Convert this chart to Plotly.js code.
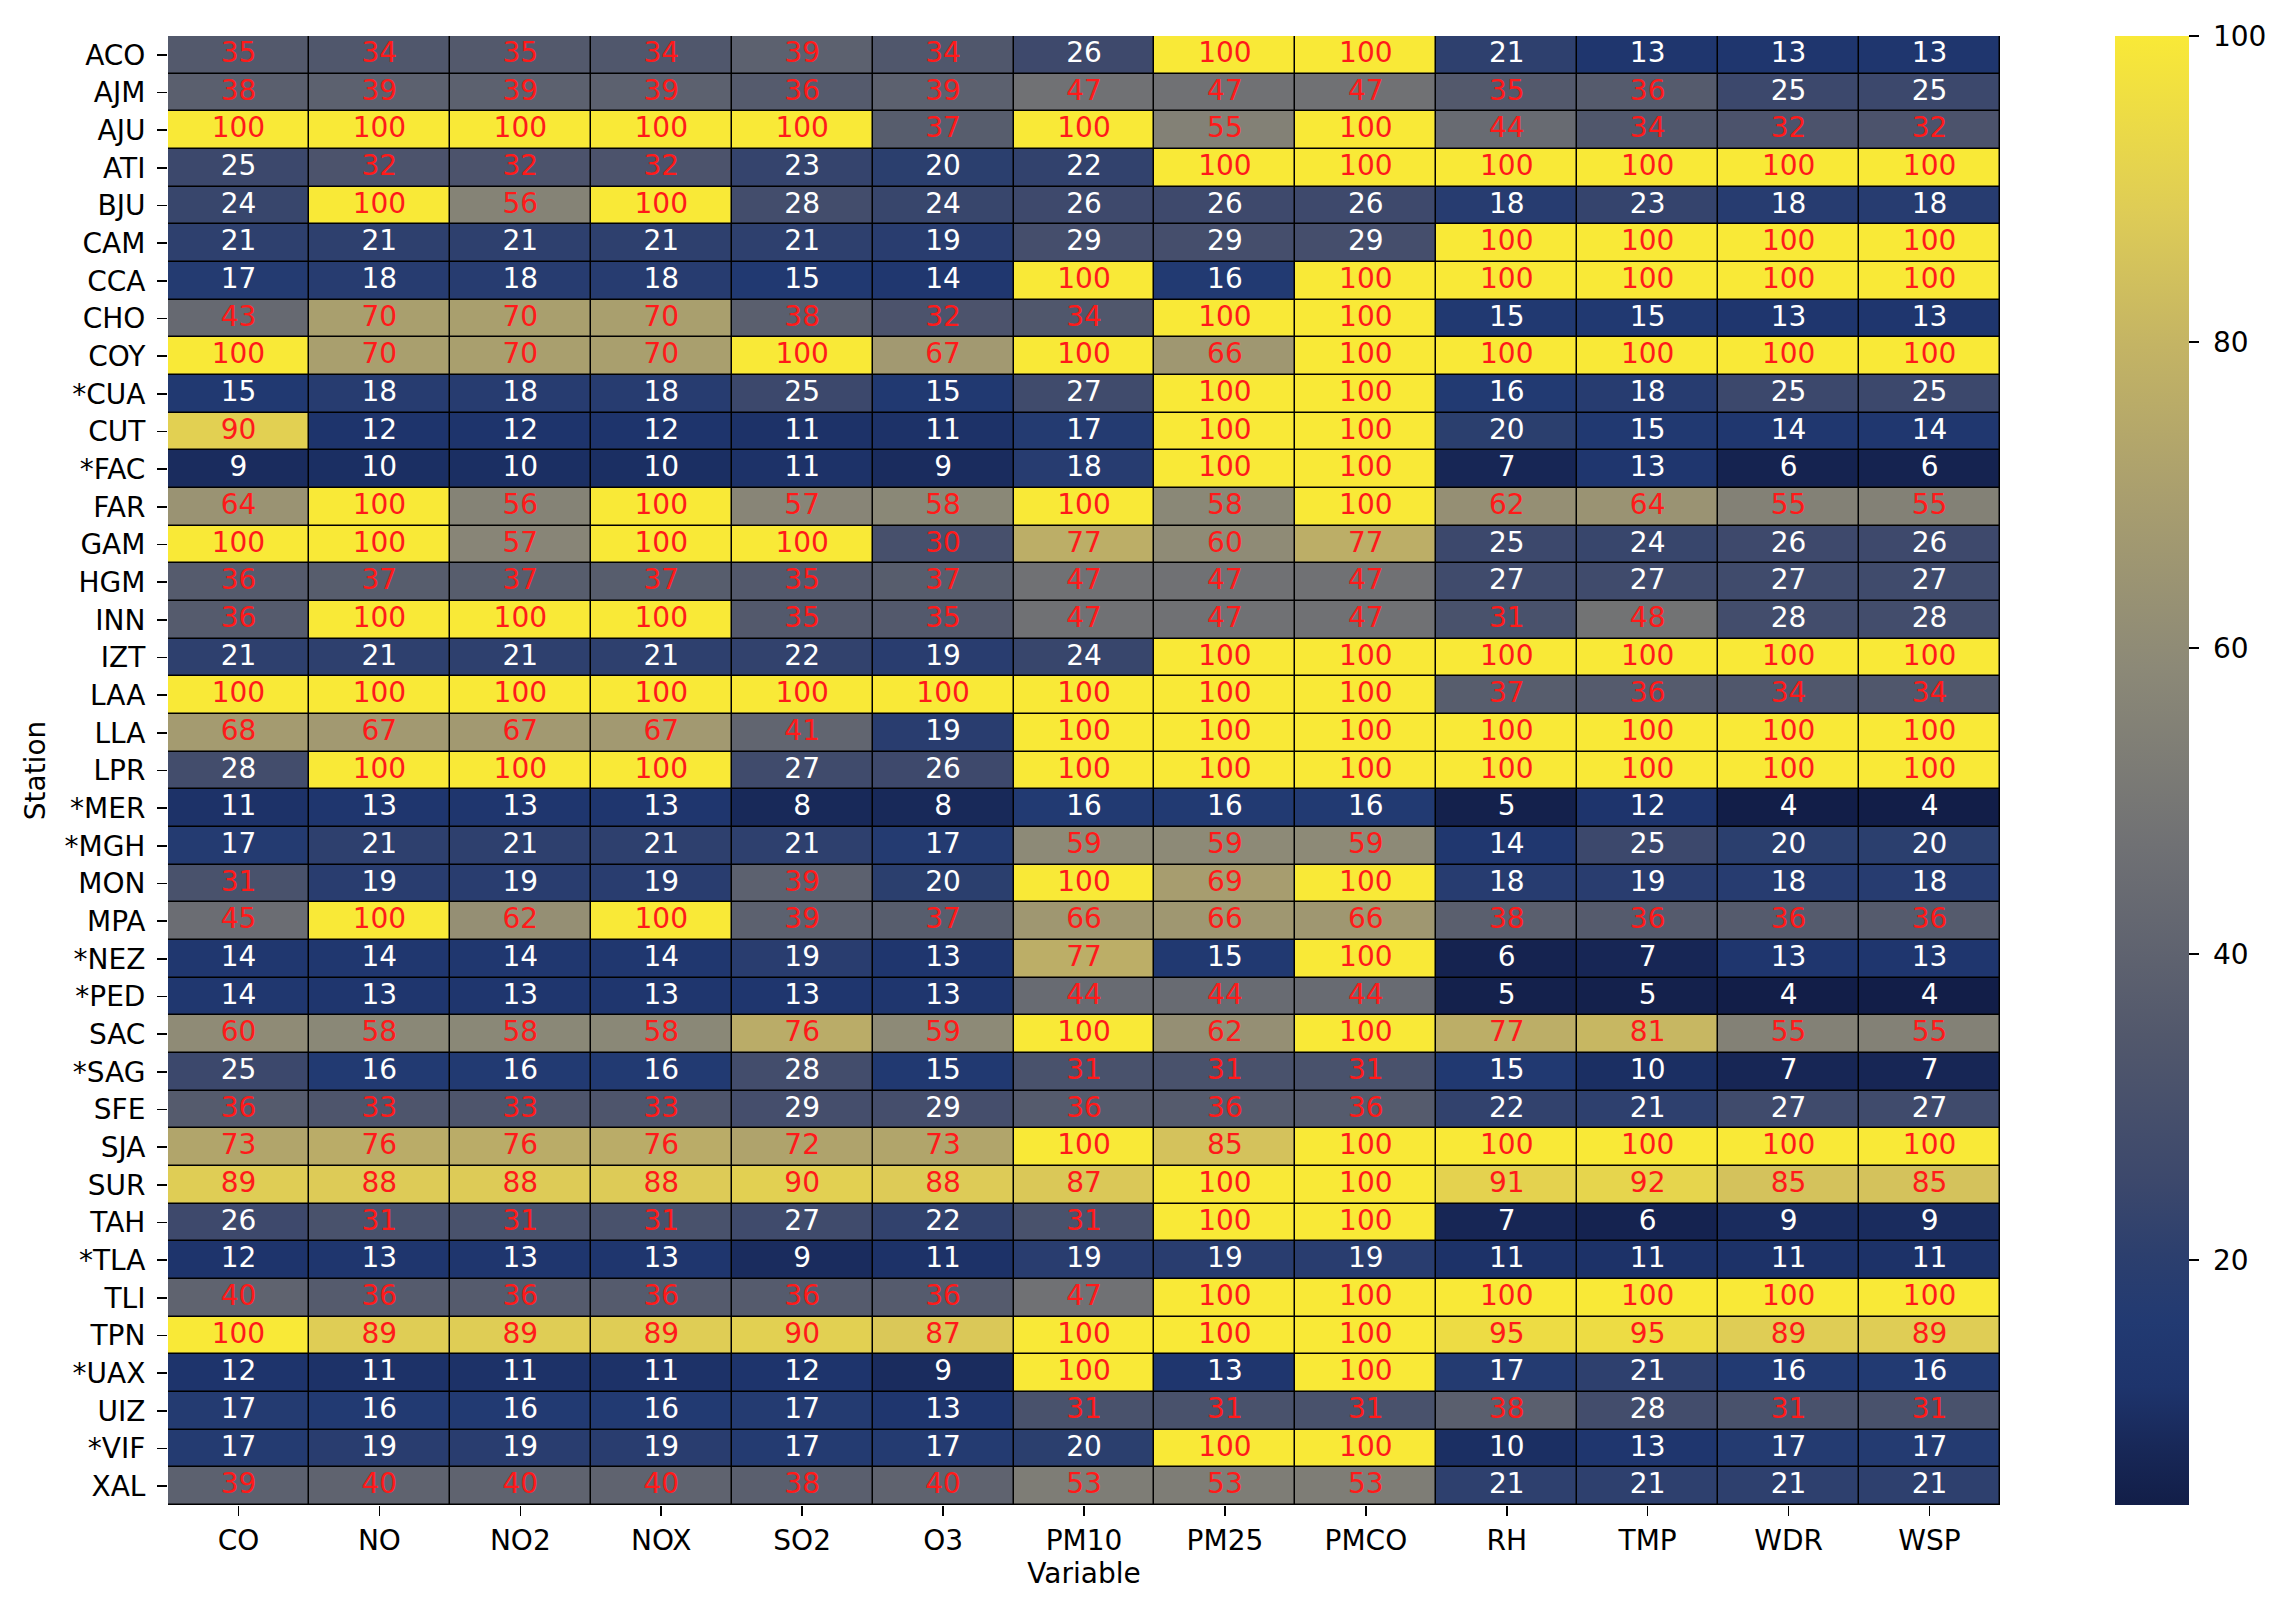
<!DOCTYPE html>
<html>
<head>
<meta charset="utf-8">
<script src="https://cdn.plot.ly/plotly-3.0.1.min.js"></script>
<style>
  html, body { margin: 0; padding: 0; background: #ffffff; }
  #chart { width: 2281px; height: 1612px; }
</style>
</head>
<body>
<div id="chart"></div>
<script>
const variables = ["CO","NO","NO2","NOX","SO2","O3","PM10","PM25","PMCO","RH","TMP","WDR","WSP"];
const stations = ["ACO","AJM","AJU","ATI","BJU","CAM","CCA","CHO","COY","*CUA","CUT","*FAC","FAR","GAM","HGM","INN","IZT","LAA","LLA","LPR","*MER","*MGH","MON","MPA","*NEZ","*PED","SAC","*SAG","SFE","SJA","SUR","TAH","*TLA","TLI","TPN","*UAX","UIZ","*VIF","XAL"];

const ACO  = [35,34,35,34,39,34,26,100,100,21,13,13,13];
const AJM  = [38,39,39,39,36,39,47,47,47,35,36,25,25];
const AJU  = [100,100,100,100,100,37,100,55,100,44,34,32,32];
const ATI  = [25,32,32,32,23,20,22,100,100,100,100,100,100];
const BJU  = [24,100,56,100,28,24,26,26,26,18,23,18,18];
const CAM  = [21,21,21,21,21,19,29,29,29,100,100,100,100];
const CCA  = [17,18,18,18,15,14,100,16,100,100,100,100,100];
const CHO  = [43,70,70,70,38,32,34,100,100,15,15,13,13];
const COY  = [100,70,70,70,100,67,100,66,100,100,100,100,100];
const CUA  = [15,18,18,18,25,15,27,100,100,16,18,25,25];
const CUT  = [90,12,12,12,11,11,17,100,100,20,15,14,14];
const FAC  = [9,10,10,10,11,9,18,100,100,7,13,6,6];
const FAR  = [64,100,56,100,57,58,100,58,100,62,64,55,55];
const GAM  = [100,100,57,100,100,30,77,60,77,25,24,26,26];
const HGM  = [36,37,37,37,35,37,47,47,47,27,27,27,27];
const INN  = [36,100,100,100,35,35,47,47,47,31,48,28,28];
const IZT  = [21,21,21,21,22,19,24,100,100,100,100,100,100];
const LAA  = [100,100,100,100,100,100,100,100,100,37,36,34,34];
const LLA  = [68,67,67,67,41,19,100,100,100,100,100,100,100];
const LPR  = [28,100,100,100,27,26,100,100,100,100,100,100,100];
const MER  = [11,13,13,13,8,8,16,16,16,5,12,4,4];
const MGH  = [17,21,21,21,21,17,59,59,59,14,25,20,20];
const MON  = [31,19,19,19,39,20,100,69,100,18,19,18,18];
const MPA  = [45,100,62,100,39,37,66,66,66,38,36,36,36];
const NEZ  = [14,14,14,14,19,13,77,15,100,6,7,13,13];
const PED  = [14,13,13,13,13,13,44,44,44,5,5,4,4];
const SAC  = [60,58,58,58,76,59,100,62,100,77,81,55,55];
const SAG  = [25,16,16,16,28,15,31,31,31,15,10,7,7];
const SFE  = [36,33,33,33,29,29,36,36,36,22,21,27,27];
const SJA  = [73,76,76,76,72,73,100,85,100,100,100,100,100];
const SUR  = [89,88,88,88,90,88,87,100,100,91,92,85,85];
const TAH  = [26,31,31,31,27,22,31,100,100,7,6,9,9];
const TLA  = [12,13,13,13,9,11,19,19,19,11,11,11,11];
const TLI  = [40,36,36,36,36,36,47,100,100,100,100,100,100];
const TPN  = [100,89,89,89,90,87,100,100,100,95,95,89,89];
const UAX  = [12,11,11,11,12,9,100,13,100,17,21,16,16];
const UIZ  = [17,16,16,16,17,13,31,31,31,38,28,31,31];
const VIF  = [17,19,19,19,17,17,20,100,100,10,13,17,17];
const XAL  = [39,40,40,40,38,40,53,53,53,21,21,21,21];

const colorbarTicks = [20,40,60,80,100];

const z = [ACO,AJM,AJU,ATI,BJU,CAM,CCA,CHO,COY,CUA,CUT,FAC,FAR,GAM,HGM,INN,IZT,LAA,LLA,LPR,MER,MGH,MON,MPA,NEZ,PED,SAC,SAG,SFE,SJA,SUR,TAH,TLA,TLI,TPN,UAX,UIZ,VIF,XAL];

let zmin = Infinity, zmax = -Infinity;
z.forEach(r => r.forEach(v => { zmin = Math.min(zmin, v); zmax = Math.max(zmax, v); }));

const tx = [], ty = [], tt = [], tc = [];
z.forEach((row, i) => row.forEach((v, j) => {
  tx.push(variables[j]); ty.push(stations[i]); tt.push(String(v));
  tc.push(v >= 30 ? '#ff1a1a' : '#ffffff');
}));

const FONT = 'DejaVu Sans, sans-serif';

// cividis-like scale, tuned to the rendered reference colours
const cividisLike = [
  [0.00, 'rgb(18,30,72)'],
  [0.04, 'rgb(24,40,88)'],
  [0.08, 'rgb(30,52,108)'],
  [0.125, 'rgb(34,58,114)'],
  [0.17, 'rgb(44,63,110)'],
  [0.22, 'rgb(60,72,108)'],
  [0.32, 'rgb(82,88,108)'],
  [0.45, 'rgb(112,113,116)'],
  [0.57, 'rgb(140,137,119)'],
  [0.69, 'rgb(170,159,110)'],
  [0.79, 'rgb(196,180,100)'],
  [0.88, 'rgb(222,204,86)'],
  [1.00, 'rgb(249,233,55)']
];

const NB = '\u00a0';

const heat = {
  type: 'heatmap',
  x: variables,
  y: stations,
  z: z,
  zmin: zmin,
  zmax: zmax,
  colorscale: cividisLike,
  xgap: 1.5,
  ygap: 1.5,
  hoverinfo: 'skip',
  colorbar: {
    x: (2115 - 168) / (2281 - 168 - 281),
    xanchor: 'left',
    xpad: 0,
    y: 0.5,
    yanchor: 'middle',
    len: 1,
    lenmode: 'fraction',
    ypad: 0,
    thickness: 74,
    thicknessmode: 'pixels',
    outlinewidth: 0,
    tickmode: 'array',
    tickvals: colorbarTicks,
    ticktext: colorbarTicks.map(v => NB + String(v)),
    ticks: 'outside',
    ticklen: 10,
    tickwidth: 1.5,
    tickcolor: '#000',
    tickfont: { family: FONT, size: 28, color: '#000' }
  }
};

const labels = {
  type: 'scatter',
  mode: 'text',
  x: tx,
  y: ty,
  text: tt,
  textposition: 'middle center',
  textfont: { family: FONT, size: 28, color: tc },
  hoverinfo: 'skip',
  showlegend: false,
  cliponaxis: false
};

const layout = {
  width: 2281,
  height: 1612,
  margin: { l: 168, r: 281, t: 36, b: 107, pad: 0, autoexpand: false },
  paper_bgcolor: '#ffffff',
  plot_bgcolor: '#000000',
  showlegend: false,
  font: { family: FONT, size: 28, color: '#000' },
  xaxis: {
    type: 'category',
    categoryorder: 'array',
    categoryarray: variables,
    range: [-0.5, variables.length - 0.5],
    autorange: false,
    showgrid: false,
    zeroline: false,
    showline: false,
    ticks: 'outside',
    ticklen: 10,
    tickwidth: 1.5,
    tickcolor: '#000',
    tickfont: { family: FONT, size: 28, color: '#000' },
    title: { text: 'Variable', font: { family: FONT, size: 28, color: '#000' }, standoff: 6 },
    fixedrange: true
  },
  yaxis: {
    type: 'category',
    categoryorder: 'array',
    categoryarray: stations,
    range: [stations.length - 0.5, -0.5],
    autorange: false,
    showgrid: false,
    zeroline: false,
    showline: false,
    ticks: 'outside',
    ticklen: 10,
    tickwidth: 1.5,
    tickcolor: '#000',
    ticklabelstandoff: 6,
    tickfont: { family: FONT, size: 28, color: '#000' },
    title: { text: 'Station', font: { family: FONT, size: 28, color: '#000' }, standoff: 10 },
    fixedrange: true
  }
};

Plotly.newPlot('chart', [heat, labels], layout, { displayModeBar: false, staticPlot: true });
</script>
</body>
</html>
